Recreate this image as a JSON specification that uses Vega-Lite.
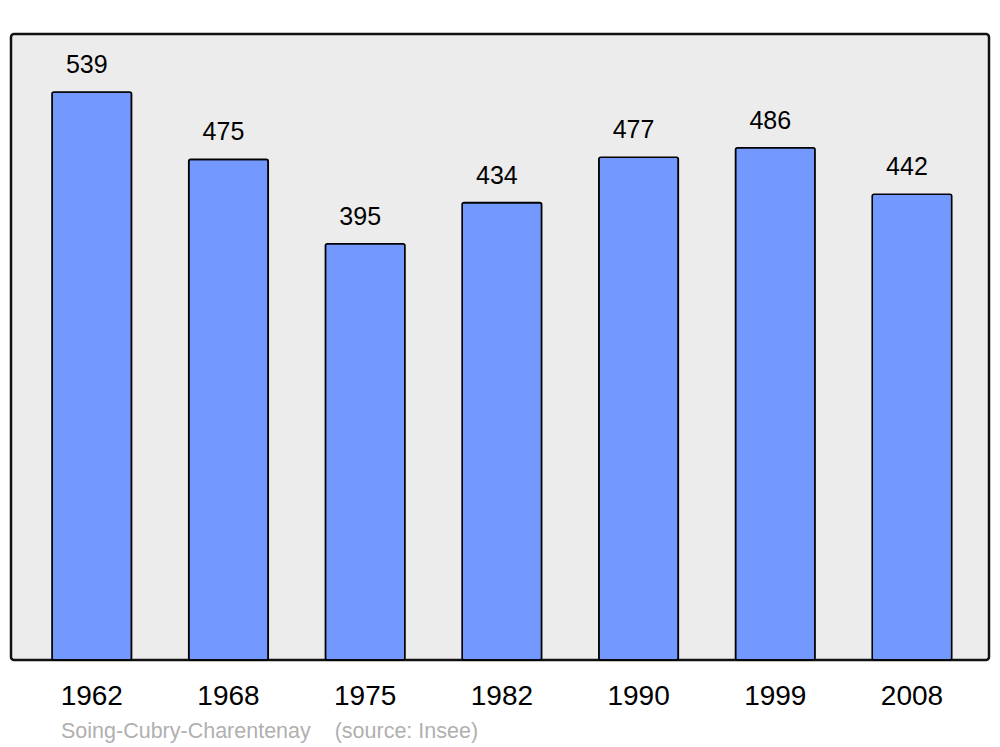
{
  "$schema": "https://vega.github.io/schema/vega-lite/v6.json",
  "width": 978,
  "height": 626,
  "autosize": {"type": "none"},
  "padding": {"left": 11, "top": 34, "right": 11, "bottom": 87},
  "background": "white",
  "config": {
    "font": "Liberation Sans",
    "view": {"fill": "#ececec", "stroke": "#111111", "strokeWidth": 2.5, "cornerRadius": 3}
  },
  "title": {
    "text": "Soing-Cubry-Charentenay\u00a0\u00a0\u00a0\u00a0(source: Insee)",
    "orient": "bottom",
    "anchor": "start",
    "dx": 50,
    "offset": 11,
    "fontSize": 21.5,
    "fontWeight": "normal",
    "color": "#b0b0b0",
    "font": "Liberation Sans"
  },
  "data": {
    "values": [
      {"year": "1962", "pop": 539},
      {"year": "1968", "pop": 475},
      {"year": "1975", "pop": 395},
      {"year": "1982", "pop": 434},
      {"year": "1990", "pop": 477},
      {"year": "1999", "pop": 486},
      {"year": "2008", "pop": 442}
    ]
  },
  "encoding": {
    "x": {
      "field": "year",
      "type": "ordinal",
      "sort": null,
      "scale": {"paddingInner": 0.4184, "paddingOuter": 0.2864, "align": 0.524},
      "axis": {
        "title": null,
        "domain": false,
        "ticks": false,
        "labelAngle": 0,
        "labelFontSize": 28,
        "labelColor": "black",
        "labelBaseline": "alphabetic",
        "labelPadding": 44
      }
    },
    "y": {
      "field": "pop",
      "type": "quantitative",
      "scale": {"domain": [0, 594], "nice": false, "zero": true},
      "axis": null
    }
  },
  "layer": [
    {
      "mark": {"type": "bar", "fill": "#7399ff", "stroke": "black", "strokeWidth": 1.6, "cornerRadius": 2}
    },
    {
      "mark": {"type": "text", "baseline": "alphabetic", "dy": -19, "dx": -5, "fontSize": 25, "color": "black"},
      "encoding": {"text": {"field": "pop", "type": "quantitative"}}
    }
  ]
}
